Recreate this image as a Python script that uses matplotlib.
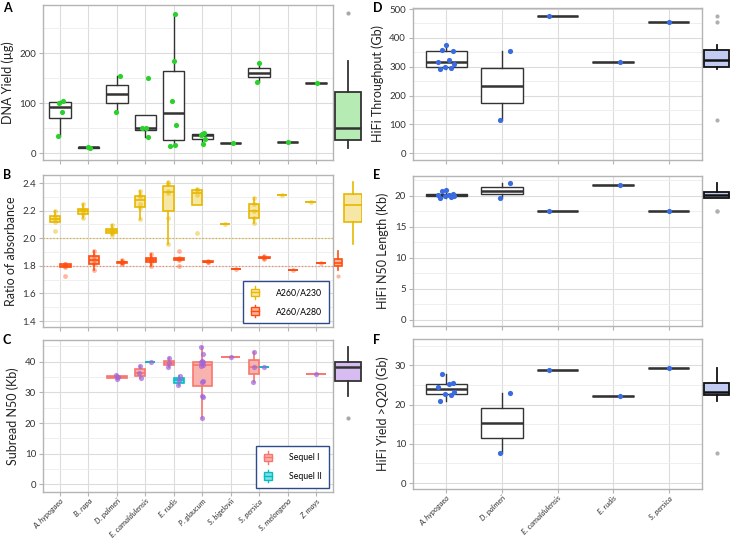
import numpy as np
import matplotlib
matplotlib.use("Agg")
import matplotlib.pyplot as plt
from matplotlib.patches import Rectangle
from matplotlib.lines import Line2D
from matplotlib.legend_handler import HandlerBase

plt.rcParams['font.family'] = ['Lato', 'DejaVu Sans']

# species on the left (A-C) and right (D-F) columns
species = ["A. hypogaea", "B. rapa", "D. palmeri", "E. camaldulensis", "E. rudis",
           "P. glaucum", "S. bigelovii", "S. persica", "S. melongena", "Z. mays"]
species_hifi = ["A. hypogaea", "D. palmeri", "E. camaldulensis", "E. rudis", "S. persica"]

# A - DNA yield (ug)
dna_yield = [[35, 82, 101, 105], [11, 12], [82, 155], [33, 50, 51, 150],
             [15, 17, 57, 105, 185, 278], [19, 29, 37, 38, 40], [21], [142, 180],
             [22], [140]]

# B - absorbance ratios
a260_230 = [[2.05, 2.12, 2.14, 2.16, 2.20], [2.15, 2.175, 2.195, 2.215, 2.245],
            [2.02, 2.04, 2.055, 2.07, 2.095], [2.14, 2.22, 2.25, 2.30, 2.31, 2.34],
            [1.96, 2.15, 2.33, 2.34, 2.39, 2.41], [2.04, 2.31, 2.35, 2.36],
            [2.10], [2.11, 2.15, 2.20, 2.25, 2.29], [2.31], [2.26]]
a260_280 = [[1.73, 1.79, 1.80, 1.81, 1.81], [1.77, 1.81, 1.84, 1.87, 1.91],
            [1.81, 1.82, 1.825, 1.83, 1.84], [1.80, 1.83, 1.845, 1.86, 1.885],
            [1.80, 1.84, 1.85, 1.86, 1.91], [1.825, 1.83, 1.835],
            [1.78], [1.85, 1.86, 1.87], [1.77], [1.82]]

# C - subread N50 (Kb)
sequel_1 = [None, None, [34.4, 35.0, 35.6], [34.6, 36.4, 38.6], [38.2, 39.5, 41.1],
            [21.5, 28.6, 28.9, 33.3, 33.8, 38.7, 38.9, 39.8, 40.0, 40.2, 42.5, 44.9],
            [41.6], [33.5, 38.2, 43.2], None, [36.0]]
sequel_2 = [None, None, None, [39.9], [32.4, 34.0, 35.4], None, None, [38.2], None, None]

# D-F - HiFi
hifi_throughput = [[291, 296, 299, 311, 318, 325, 355, 358, 374], [114, 356], [477], [317], [456]]
hifi_n50 = [[19.6, 19.8, 19.9, 20.0, 20.1, 20.2, 20.3, 20.7, 20.9], [19.6, 22.1], [17.6], [21.7], [17.6]]
hifi_q20 = [[20.9, 22.5, 22.7, 23.2, 24.6, 25.2, 25.4, 27.8], [7.7, 23.0], [28.7], [22.2], [29.4]]

# summary boxes on the side: whislo, q1, med, q3, whishi, fliers
side_yield = [10, 27, 50, 123, 185, [280]]
side_230 = [1.96, 2.12, 2.24, 2.32, 2.41, []]
side_280 = [1.77, 1.80, 1.82, 1.85, 1.91, [1.73]]
side_subread = [28.8, 33.8, 38.2, 40.0, 44.9, [21.7]]
side_throughput = [292, 300, 325, 358, 375, [114, 456, 477]]
side_n50 = [19.6, 19.7, 20.1, 20.6, 22.1, [17.6, 17.6]]
side_q20 = [20.9, 22.4, 23.2, 25.5, 29.4, [7.7]]

W, H = 730, 539
fig = plt.figure(figsize=(W / 100, H / 100), dpi=100)


def px_axes(x0, y0, x1, y1, **kw):
    return fig.add_axes([x0 / W, 1 - y1 / H, (x1 - x0) / W, (y1 - y0) / H], **kw)


jit = [-0.09, 0.07, -0.02, 0.11, -0.12, 0.03, 0.09, -0.06, 0.0, 0.05, -0.1, 0.12]


def style_main(ax, ncat, ylim, major, minor, ylabel, labels=None):
    ax.set_xlim(-0.6, ncat - 0.4)
    ax.set_ylim(*ylim)
    ax.set_xticks(range(ncat))
    ax.set_yticks(major)
    ax.set_yticks(minor, minor=True)
    ax.grid(which='major', color='#DCDCDC', lw=0.8)
    ax.grid(which='minor', axis='y', color='#EDEDED', lw=0.6)
    ax.set_axisbelow(True)
    for s in ax.spines.values():
        s.set_color('#B4B4B4')
        s.set_linewidth(1.0)
    ax.tick_params(which='major', length=3, color='#B4B4B4', labelsize=7, labelcolor='#333333', pad=2)
    ax.tick_params(which='minor', length=0)
    ax.set_ylabel(ylabel, fontsize=9, color='#222222', labelpad=4)
    if labels is None:
        ax.set_xticklabels([])
    else:
        ax.set_xticklabels(labels, rotation=45, ha='right', rotation_mode='anchor',
                           fontsize=5.5, style='italic', color='#333333')
        ax.tick_params(axis='x', pad=1)


def draw_box(ax, vals, pos, width, edge, face, lw=1.0, medlw=1.8, alpha=1.0):
    bp = ax.boxplot([vals], positions=[pos], widths=width, patch_artist=True,
                    showfliers=False, showcaps=False, whis=1.5, manage_ticks=False)
    for b in bp['boxes']:
        b.set(facecolor=face, edgecolor=edge, linewidth=lw, alpha=alpha)
    for w in bp['whiskers']:
        w.set(color=edge, linewidth=lw)
    for m in bp['medians']:
        m.set(color=edge, linewidth=medlw)


def side_box(ax, stats, pos, width, edge, face, flier='#A8A8A8', lw=1.3, medlw=1.8):
    st = dict(whislo=stats[0], q1=stats[1], med=stats[2], q3=stats[3], whishi=stats[4],
              fliers=stats[5])
    ax.bxp([st], positions=[pos], widths=width, patch_artist=True, showcaps=False,
           boxprops=dict(facecolor=face, edgecolor=edge, linewidth=lw),
           whiskerprops=dict(color=edge, linewidth=lw),
           medianprops=dict(color=edge, linewidth=medlw),
           flierprops=dict(marker='o', markersize=3, markerfacecolor=flier,
                           markeredgecolor='none'), manage_ticks=False)


def make_side(x0, y0, x1, y1, ylim):
    ax = px_axes(x0, y0, x1, y1)
    ax.set_ylim(*ylim)
    ax.set_xlim(0, 1)
    ax.axis('off')
    return ax


class BoxHandler(HandlerBase):
    def create_artists(self, legend, orig, xd, yd, w, h, fs, trans):
        edge = orig.get_edgecolor()
        x0, y0 = -xd, -yd
        bw = w * 0.8
        bx = x0 + (w - bw) / 2
        whisk = Line2D([x0 + w / 2] * 2, [y0 - h * 0.35, y0 + h * 1.35], color=edge, lw=1, transform=trans)
        rect = Rectangle((bx, y0), bw, h, facecolor=orig.get_facecolor(), edgecolor=edge, lw=1, transform=trans)
        med = Line2D([bx, bx + bw], [y0 + h / 2] * 2, color=edge, lw=1, transform=trans)
        return [whisk, rect, med]


def box_legend(ax, items):
    handles = [Rectangle((0, 0), 1, 1, facecolor=f, edgecolor=e) for e, f, _ in items]
    lg = ax.legend(handles, [t for _, _, t in items], loc='lower right', fontsize=6.3,
                   handler_map={Rectangle: BoxHandler()}, fancybox=False, framealpha=1,
                   edgecolor='#2F4A8A', borderpad=0.8, labelspacing=1.1, handlelength=1.2,
                   handleheight=0.9, handletextpad=1.8, borderaxespad=0.45)
    lg.get_frame().set_linewidth(1.0)


dark = '#333333'
green = '#2BD12B'
gold = '#E8B800'
gold_f = '#F7E7A6'
orange = '#FF4D0F'
orange_f = '#FFB49A'
s1 = '#F8766D'
s1_f = '#F9B3AE'
s2 = '#00BFC4'
s2_f = '#7FDFE1'
purple = '#A064DC'
blue = '#3A6BE0'

# ---------- A
axA = px_axes(43, 5, 333, 160)
style_main(axA, 10, (-13.5, 296), [0, 100, 200], [50, 150, 250], 'DNA Yield (µg)')
for i, vals in enumerate(dna_yield):
    draw_box(axA, vals, i, 0.75, dark, 'white')
    xs = [i + jit[(k + i) % len(jit)] for k in range(len(vals))]
    axA.scatter(xs, vals, s=14, color=green, zorder=4, linewidths=0)
sA = make_side(334, 5, 362, 160, (-13.5, 296))
side_box(sA, side_yield, 0.5, 0.93, dark, '#B6EBB3')

# ---------- B
axB = px_axes(43, 175, 333, 327)
style_main(axB, 10, (1.357, 2.458), [1.4, 1.6, 1.8, 2.0, 2.2, 2.4], [1.5, 1.7, 1.9, 2.1, 2.3],
           'Ratio of absorbance')
axB.axhline(2.0, color='#D8B030', lw=0.9, ls=':', zorder=1.5)
axB.axhline(1.8, color='#F08A6A', lw=0.9, ls=':', zorder=1.5)
for i in range(10):
    draw_box(axB, a260_230[i], i - 0.19, 0.36, gold, gold_f, lw=1.2, medlw=1.2)
    draw_box(axB, a260_280[i], i + 0.19, 0.36, orange, orange_f, lw=1.2, medlw=1.2)
    axB.scatter([i - 0.19] * len(a260_230[i]), a260_230[i], s=12, color=gold, alpha=0.45,
                zorder=4, linewidths=0)
    axB.scatter([i + 0.19] * len(a260_280[i]), a260_280[i], s=12, color=orange, alpha=0.4,
                zorder=4, linewidths=0)
box_legend(axB, [(gold, gold_f, 'A260/A230'), (orange, orange_f, 'A260/A280')])
sB = make_side(334, 175, 362, 327, (1.357, 2.458))
side_box(sB, side_280, 0.14, 0.26, orange, orange_f, flier='#F8B8A8', lw=1.2, medlw=1.2)
side_box(sB, side_230, 0.68, 0.62, gold, gold_f, lw=1.2, medlw=1.2)

# ---------- C
axC = px_axes(43, 340, 333, 492)
style_main(axC, 10, (-2.5, 47.1), [0, 10, 20, 30, 40], [5, 15, 25, 35, 45],
           'Subread N50 (Kb)', labels=species)
for i in range(10):
    groups = [(sequel_1[i], s1, s1_f), (sequel_2[i], s2, s2_f)]
    groups = [g for g in groups if g[0] is not None]
    n = len(groups)
    for j, (vals, e, f) in enumerate(groups):
        if n == 1:
            pos, wd = i, 0.68
        else:
            pos, wd = i + (-0.18 if j == 0 else 0.18), 0.35
        draw_box(axC, vals, pos, wd, e, f, lw=1.2, medlw=1.2)
        xs = [pos + 0.3 * jit[(k + i) % len(jit)] for k in range(len(vals))]
        axC.scatter(xs, vals, s=14, color=purple, alpha=0.7, zorder=4, linewidths=0)
box_legend(axC, [(s1, s1_f, 'Sequel I'), (s2, s2_f, 'Sequel II')])
sC = make_side(334, 340, 362, 492, (-2.5, 47.1))
side_box(sC, side_subread, 0.5, 0.93, dark, '#D7BCF2')

# ---------- D, E, F
right = [
    ((413, 8, 702, 160), hifi_throughput, (-23, 503.5), [0, 100, 200, 300, 400, 500],
     [50, 150, 250, 350, 450], 'HiFi Throughput (Gb)', side_throughput, None),
    ((413, 176, 702, 326), hifi_n50, (-1.0, 23.2), [0, 5, 10, 15, 20],
     [2.5, 7.5, 12.5, 17.5, 22.5], 'HiFi N50 Length (Kb)', side_n50, None),
    ((413, 339, 702, 489), hifi_q20, (-1.5, 36.7), [0, 10, 20, 30],
     [5, 15, 25, 35], 'HiFi Yield >Q20 (Gb)', side_q20, species_hifi),
]
for (x0, y0, x1, y1), data, ylim, major, minor, lab, side, labels in right:
    ax = px_axes(x0, y0, x1, y1)
    style_main(ax, 5, ylim, major, minor, lab, labels=labels)
    for i, vals in enumerate(data):
        draw_box(ax, vals, i, 0.75, dark, 'white')
        xs = [i + 1.3 * jit[(k + 2 * i) % len(jit)] for k in range(len(vals))]
        ax.scatter(xs, vals, s=14, color=blue, zorder=4, linewidths=0)
    sd = make_side(703, y0, 730, y1, ylim)
    side_box(sd, side, 0.5, 0.96, '#111111', '#C2CBF2', flier='#B0B0B0')

for lab, x, y in [('A', 3, 2), ('B', 3, 169), ('C', 3, 334), ('D', 373, 2), ('E', 373, 169), ('F', 373, 334)]:
    fig.text(x / W, 1 - y / H, lab, fontsize=9, fontweight='bold', va='top', ha='left')

fig.savefig('out.png', dpi=100)
